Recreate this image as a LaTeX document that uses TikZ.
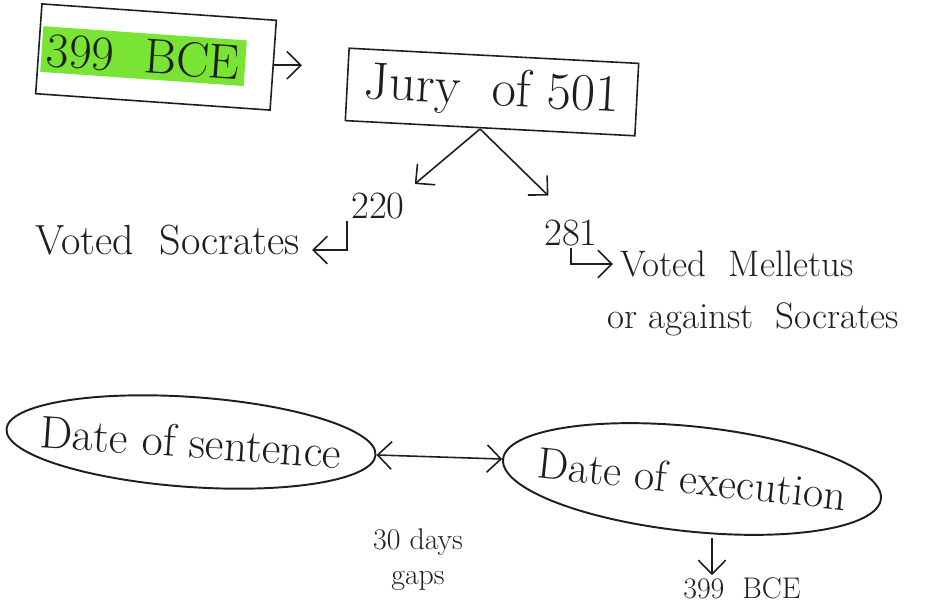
\documentclass[tikz,border=0pt]{standalone}
\usetikzlibrary{shapes.geometric,arrows.meta}
\definecolor{ink}{RGB}{28,32,28}
\definecolor{marker}{RGB}{122,228,52}
\tikzset{
  hand/.style={draw=ink, line width=0.9pt},
  tip/.style={hand, -{Straight Barb[length=2.8mm,width=5.5mm]}},
  tips/.style={hand, {Straight Barb[length=2.8mm,width=5.5mm]}-{Straight Barb[length=2.8mm,width=5.5mm]}},
  boxed/.style={hand, inner sep=0pt},
  oval/.style={ellipse, draw=ink, line width=1.1pt, inner sep=0pt},
  words/.style={text=ink, inner sep=1pt},
}
\newcommand{\fs}[1]{\fontsize{#1}{#1}\selectfont}

\begin{document}
\begin{tikzpicture}[x=0.02cm, y=-0.02cm]
  %%%%% START %%%%%
  \useasboundingbox[fill=white] (0,0) rectangle (938,609);

  % top row
  \node[boxed, rotate=-4, minimum width=4.7cm, minimum height=1.8cm, text=ink] (bce) at (156,57)
    {\fs{28}\colorbox{marker}{399\ \ BCE}\hspace*{0.5cm}};
  \node[boxed, rotate=-3, minimum width=5.8cm, minimum height=1.45cm, text=ink] (jury) at (492,92)
    {\fs{30}Jury\ \ of 501};
  \draw[tip] (bce.east) -- ++(28,0);

  % the votes
  \coordinate (fork) at ([xshift=-0.2cm]jury.south);
  \node[words] (n220) at (378,206) {\fs{22}220};
  \node[words] (n281) at (571,233) {\fs{22}281};
  \draw[tip, shorten >=6pt] (fork) -- (n220.north east);
  \draw[tip, shorten >=18pt] (fork) -- (n281.north);

  \node[words, anchor=west] (vs) at (33,240) {\fs{24}Voted\ \ Socrates};
  \draw[tip] ([xshift=-0.05cm]n220.south west) |- ([xshift=0.2cm,yshift=-0.2cm]vs.east);

  \node[words, anchor=west] (vm) at (618,264) {\fs{21}Voted\ \ Melletus};
  \node[words, anchor=west] (va) at (605,319) {\fs{21}or against\ \ Socrates};
  \draw[tip] (n281.south) |- ([xshift=-0.1cm]vm.west);

  % sentence and execution
  \node[oval, rotate=-4, minimum width=7.4cm, minimum height=1.8cm] (sent) at (191,442)
    {\makebox[0pt]{\fs{26}\color{ink}Date of sentence}};
  \node[oval, rotate=-6, minimum width=7.6cm, minimum height=2.1cm] (exec) at (692,479)
    {\makebox[0pt]{\fs{25}\color{ink}Date of execution}};
  \draw[tips] (sent.east) -- (exec.west);

  \node[words, align=center, font=\fs{17}] (gap) at (418,560) {30 days\\[3pt]gaps};

  \node[words] (bce2) at (742,588) {\fs{17}399\ \ BCE};
  \coordinate (drop) at (712,538);
  \draw[tip] (drop) -- (drop |- bce2.north);
  %%%%% END %%%%%
\end{tikzpicture}
\end{document}
